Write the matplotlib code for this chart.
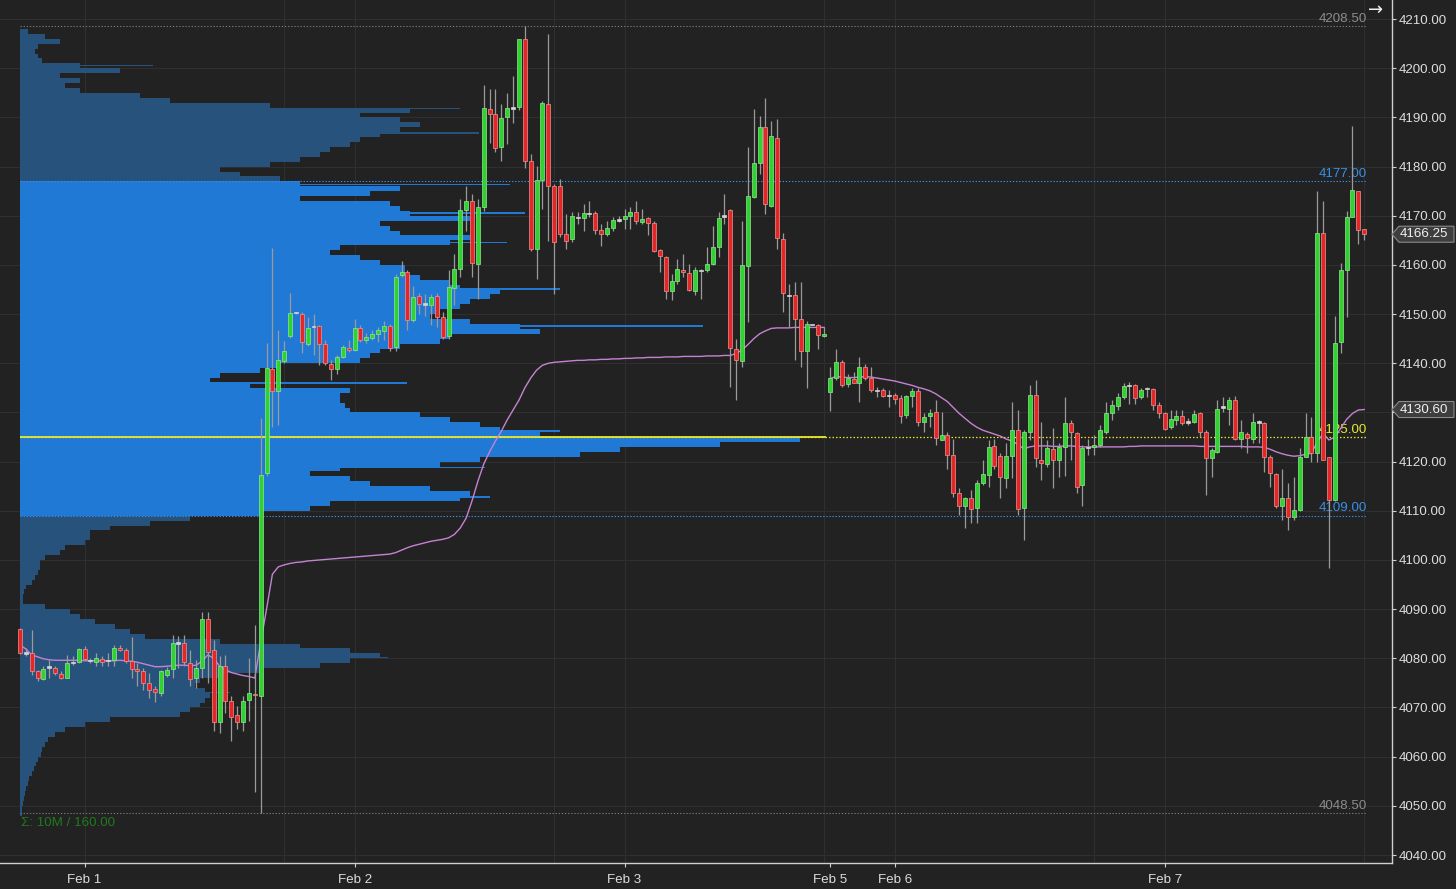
import numpy as np
import matplotlib.pyplot as plt
from matplotlib.patches import Polygon
from matplotlib.transforms import blended_transform_factory

# ---- 30 min ES bars, Jan 31 evening -> Feb 7 (bar index on x) ----
opens = [
    4086.0, 4081.1, 4081.1, 4077.4, 4075.8, 4078.2, 4078.0, 4076.9, 4076.0, 4079.2,
    4079.2, 4081.9, 4079.6, 4079.2, 4079.9, 4079.6, 4079.7, 4082.1, 4081.6, 4079.4,
    4077.8, 4077.4, 4074.9, 4073.8, 4073.0, 4076.6, 4077.8, 4083.1, 4083.1, 4079.0,
    4076.0, 4078.0, 4088.0, 4081.6, 4067.0, 4078.4, 4071.3, 4068.4, 4067.0, 4071.6,
    4072.8, 4072.3, 4117.7, 4138.9, 4134.4, 4140.5, 4145.5, 4150.3, 4150.1, 4144.0,
    4147.5, 4147.5, 4143.9, 4139.9, 4138.9, 4141.3, 4143.2, 4142.8, 4147.2, 4144.8,
    4145.2, 4146.0, 4146.6, 4147.5, 4143.4, 4157.9, 4158.5, 4148.9, 4153.6, 4152.1,
    4151.8, 4153.6, 4149.5, 4145.5, 4155.3, 4159.2, 4171.2, 4173.1, 4160.2, 4171.7,
    4191.7, 4190.8, 4183.9, 4190.0, 4191.9, 4192.1, 4205.9, 4181.2, 4163.3, 4177.3,
    4192.7, 4176.1, 4176.1, 4166.3, 4165.3, 4169.7, 4169.6, 4170.5, 4170.5, 4167.1,
    4166.3, 4167.6, 4169.1, 4169.3, 4170.0, 4170.7, 4168.7, 4169.5, 4168.5, 4163.1,
    4161.7, 4154.7, 4156.7, 4159.0, 4158.3, 4154.8, 4158.9, 4158.9, 4160.2, 4163.6,
    4170.0, 4171.2, 4143.0, 4140.5, 4159.7, 4173.9, 4180.8, 4188.1, 4172.0, 4185.9,
    4165.3, 4153.8, 4153.9, 4149.1, 4142.5, 4147.9, 4147.7, 4145.5, 4134.2, 4137.1,
    4140.3, 4135.7, 4136.8, 4136.0, 4139.3, 4137.1, 4134.5, 4134.5, 4133.5, 4133.5,
    4133.0, 4129.5, 4133.3, 4134.4, 4128.1, 4129.2, 4130.1, 4124.5, 4125.5, 4121.3,
    4113.7, 4111.0, 4112.6, 4110.5, 4115.6, 4117.3, 4123.2, 4121.1, 4116.6, 4121.1,
    4126.4, 4110.5, 4126.1, 4133.5, 4120.3, 4119.6, 4122.5, 4120.3, 4122.9, 4127.9,
    4125.9, 4115.2, 4122.9, 4123.0, 4123.4, 4126.1, 4129.8, 4131.3, 4133.2, 4135.5,
    4135.5, 4133.2, 4134.9, 4134.7, 4131.5, 4129.9, 4127.1, 4128.4, 4129.2, 4128.1,
    4128.1, 4129.8, 4126.1, 4120.7, 4122.0, 4131.1, 4130.8, 4132.6, 4124.7, 4125.7,
    4124.7, 4128.1, 4127.8, 4120.9, 4117.5, 4110.9, 4112.6, 4108.8, 4110.2, 4121.0,
    4125.1, 4121.7, 4166.6, 4121.0, 4112.2, 4144.3, 4158.9, 4169.7, 4175.1, 4167.3,
]
highs = [
    4086.2, 4082.0, 4085.8, 4077.7, 4078.4, 4079.7, 4078.5, 4077.4, 4080.7, 4080.4,
    4082.1, 4082.6, 4080.0, 4081.1, 4080.4, 4081.0, 4082.8, 4082.8, 4082.1, 4084.4,
    4079.0, 4078.0, 4077.0, 4074.3, 4077.7, 4078.2, 4084.8, 4084.5, 4084.8, 4081.7,
    4079.7, 4089.5, 4089.5, 4083.8, 4080.4, 4080.7, 4072.3, 4070.3, 4072.3, 4080.0,
    4086.7, 4128.8, 4144.1, 4163.5, 4146.8, 4144.6, 4154.3, 4150.5, 4150.4, 4149.5,
    4150.1, 4147.7, 4144.8, 4140.6, 4141.6, 4143.8, 4144.8, 4149.1, 4147.7, 4146.1,
    4146.8, 4147.4, 4148.7, 4147.9, 4158.2, 4160.9, 4158.9, 4155.8, 4154.3, 4154.1,
    4154.1, 4154.3, 4150.4, 4158.9, 4162.2, 4173.4, 4176.1, 4174.4, 4173.4, 4196.7,
    4195.7, 4195.7, 4192.7, 4195.0, 4198.4, 4206.0, 4208.5, 4182.6, 4180.2, 4193.3,
    4206.9, 4176.4, 4177.4, 4170.3, 4170.7, 4170.7, 4172.4, 4173.1, 4171.0, 4168.3,
    4169.0, 4169.7, 4170.0, 4171.4, 4171.7, 4173.1, 4171.4, 4169.7, 4169.0, 4163.3,
    4161.9, 4158.2, 4161.2, 4162.3, 4160.2, 4159.5, 4159.2, 4163.6, 4168.0, 4170.7,
    4174.4, 4171.3, 4145.0, 4169.0, 4183.9, 4191.7, 4190.3, 4194.0, 4189.3, 4189.6,
    4166.6, 4156.2, 4156.5, 4156.5, 4148.7, 4148.0, 4148.0, 4147.3, 4139.3, 4143.0,
    4140.6, 4137.9, 4138.2, 4141.3, 4139.9, 4139.3, 4135.2, 4134.9, 4134.5, 4133.9,
    4133.5, 4133.5, 4134.9, 4134.9, 4129.8, 4130.8, 4132.5, 4130.1, 4126.1, 4124.7,
    4114.6, 4112.9, 4114.2, 4116.3, 4120.3, 4124.4, 4124.7, 4121.7, 4123.7, 4132.2,
    4130.5, 4126.4, 4135.5, 4136.6, 4128.1, 4124.4, 4126.8, 4123.7, 4133.2, 4128.4,
    4126.1, 4123.4, 4124.7, 4125.4, 4127.4, 4132.2, 4132.5, 4133.9, 4135.9, 4136.2,
    4135.7, 4134.9, 4135.1, 4134.9, 4132.2, 4130.1, 4130.5, 4130.5, 4130.5, 4128.8,
    4130.5, 4130.1, 4126.4, 4122.7, 4132.5, 4133.2, 4133.2, 4133.3, 4128.4, 4126.1,
    4129.9, 4128.4, 4128.1, 4121.3, 4117.6, 4118.6, 4115.6, 4116.9, 4122.7, 4129.8,
    4129.1, 4175.1, 4173.1, 4121.0, 4149.7, 4160.3, 4171.0, 4188.3, 4175.1, 4167.3,
]
lows = [
    4080.8, 4080.4, 4076.7, 4075.3, 4075.5, 4076.0, 4076.7, 4075.7, 4076.0, 4078.7,
    4079.0, 4079.7, 4079.0, 4078.4, 4078.4, 4078.5, 4078.4, 4081.4, 4079.0, 4076.0,
    4074.3, 4073.6, 4071.9, 4071.1, 4072.3, 4076.3, 4076.0, 4078.0, 4078.4, 4074.4,
    4074.0, 4076.0, 4075.0, 4065.2, 4064.8, 4068.9, 4063.2, 4065.7, 4065.2, 4067.2,
    4052.8, 4048.5, 4117.0, 4127.0, 4127.4, 4140.0, 4145.2, 4150.1, 4142.0, 4143.6,
    4141.6, 4139.6, 4139.6, 4136.7, 4137.8, 4141.0, 4142.3, 4142.6, 4144.3, 4144.1,
    4144.7, 4144.3, 4144.7, 4142.6, 4142.6, 4157.5, 4146.7, 4148.4, 4150.1, 4149.7,
    4147.7, 4147.4, 4145.0, 4145.0, 4151.8, 4157.5, 4167.0, 4157.5, 4153.1, 4171.0,
    4184.9, 4182.9, 4181.2, 4184.6, 4188.9, 4191.6, 4179.8, 4162.9, 4157.2, 4171.4,
    4164.9, 4154.1, 4165.6, 4163.3, 4164.6, 4168.3, 4167.0, 4169.7, 4166.3, 4163.9,
    4165.9, 4167.0, 4168.7, 4167.3, 4167.3, 4168.3, 4168.3, 4166.0, 4162.6, 4158.5,
    4153.1, 4152.8, 4156.2, 4157.5, 4154.8, 4153.8, 4153.1, 4158.5, 4159.9, 4161.6,
    4168.3, 4135.2, 4132.5, 4139.3, 4148.4, 4173.7, 4178.5, 4170.4, 4171.7, 4163.3,
    4150.4, 4147.4, 4140.6, 4139.3, 4134.9, 4147.7, 4143.0, 4145.3, 4130.3, 4136.6,
    4135.2, 4135.2, 4135.9, 4132.2, 4136.6, 4134.2, 4133.2, 4133.2, 4131.2, 4131.8,
    4127.8, 4128.8, 4131.2, 4127.2, 4126.1, 4127.1, 4123.4, 4124.4, 4118.6, 4112.9,
    4109.2, 4106.5, 4107.5, 4107.5, 4115.3, 4114.9, 4118.6, 4112.6, 4114.6, 4116.6,
    4109.2, 4104.1, 4124.4, 4119.0, 4116.3, 4119.0, 4114.6, 4116.9, 4117.0, 4120.3,
    4113.6, 4110.9, 4121.3, 4121.3, 4123.0, 4125.7, 4128.4, 4130.5, 4132.8, 4131.8,
    4131.8, 4132.8, 4133.2, 4130.5, 4128.8, 4126.4, 4126.7, 4127.4, 4127.4, 4127.4,
    4127.8, 4125.1, 4113.2, 4116.9, 4121.8, 4130.1, 4127.4, 4124.4, 4122.7, 4121.7,
    4123.7, 4123.7, 4117.9, 4114.9, 4110.5, 4108.2, 4106.1, 4108.2, 4109.9, 4120.9,
    4120.0, 4120.0, 4120.3, 4098.4, 4111.9, 4142.0, 4149.4, 4169.7, 4164.3, 4165.0,
]
closes = [
    4081.0, 4081.1, 4077.4, 4076.0, 4077.8, 4078.2, 4077.0, 4076.0, 4079.0, 4079.2,
    4081.9, 4079.9, 4079.6, 4080.1, 4079.2, 4079.6, 4082.1, 4081.7, 4079.4, 4077.8,
    4077.4, 4075.0, 4073.6, 4073.1, 4077.4, 4077.7, 4083.2, 4083.1, 4079.2, 4075.8,
    4078.0, 4088.0, 4081.2, 4067.0, 4078.4, 4071.3, 4068.1, 4067.0, 4071.3, 4073.0,
    4072.6, 4117.3, 4139.0, 4134.4, 4140.6, 4142.5, 4150.3, 4150.3, 4144.3, 4147.2,
    4147.5, 4143.9, 4140.1, 4138.9, 4141.3, 4143.3, 4142.8, 4147.2, 4144.7, 4145.3,
    4146.0, 4146.7, 4147.5, 4143.2, 4157.6, 4158.5, 4148.9, 4153.5, 4152.1, 4152.1,
    4153.5, 4149.5, 4145.3, 4155.5, 4159.2, 4171.2, 4173.1, 4160.4, 4171.7, 4191.9,
    4190.6, 4183.7, 4189.8, 4191.9, 4191.9, 4205.9, 4181.2, 4163.3, 4177.3, 4193.0,
    4176.1, 4164.6, 4166.3, 4164.9, 4170.0, 4169.7, 4170.5, 4170.5, 4167.1, 4166.2,
    4167.5, 4169.1, 4169.1, 4170.0, 4170.7, 4169.0, 4169.3, 4168.5, 4162.9, 4161.9,
    4154.8, 4156.8, 4159.2, 4158.5, 4154.9, 4158.9, 4158.9, 4160.1, 4163.7, 4169.5,
    4170.0, 4143.2, 4140.6, 4159.9, 4174.1, 4180.8, 4188.1, 4172.3, 4186.3, 4165.5,
    4154.3, 4153.8, 4149.1, 4142.5, 4148.0, 4147.9, 4145.7, 4146.0, 4137.1, 4140.3,
    4135.5, 4137.1, 4136.0, 4139.3, 4137.1, 4134.5, 4134.5, 4133.3, 4133.5, 4132.8,
    4129.3, 4133.3, 4134.4, 4128.1, 4129.0, 4129.9, 4124.9, 4125.4, 4121.3, 4113.7,
    4111.0, 4112.6, 4110.3, 4115.6, 4117.5, 4122.9, 4119.1, 4116.8, 4121.1, 4126.4,
    4110.3, 4126.1, 4133.5, 4120.7, 4119.8, 4122.7, 4120.3, 4123.0, 4127.8, 4126.1,
    4114.9, 4122.7, 4122.9, 4123.4, 4126.4, 4129.9, 4131.5, 4133.2, 4135.3, 4135.5,
    4133.0, 4134.5, 4134.9, 4131.5, 4129.8, 4126.7, 4128.6, 4129.2, 4127.9, 4128.1,
    4129.7, 4126.1, 4120.7, 4122.4, 4130.8, 4131.1, 4132.6, 4124.7, 4126.1, 4124.9,
    4128.1, 4128.1, 4121.0, 4117.6, 4110.9, 4112.6, 4108.8, 4110.2, 4121.0, 4125.1,
    4121.7, 4166.6, 4120.3, 4112.2, 4144.1, 4158.9, 4169.8, 4175.3, 4167.1, 4166.25,
]

# weekly VWAP (resets with the Sunday open, bar 138)
vwap_week1 = [
    4082.7, 4081.9, 4080.7, 4080.3, 4079.9, 4079.7, 4079.6, 4079.6, 4079.6, 4079.6,
    4079.6, 4079.5, 4079.5, 4079.5, 4079.5, 4079.5, 4079.5, 4079.6, 4079.5, 4079.4,
    4079.2, 4078.9, 4078.6, 4078.3, 4078.3, 4078.4, 4078.5, 4078.6, 4078.6, 4078.5,
    4078.6, 4079.4, 4080.7, 4080.0, 4078.4, 4077.7, 4077.1, 4076.8, 4076.5, 4076.3,
    4076.0, 4083.2, 4090.0, 4097.1, 4098.6, 4099.0, 4099.3, 4099.5, 4099.6, 4099.8,
    4099.9, 4100.0, 4100.1, 4100.2, 4100.3, 4100.4, 4100.5, 4100.6, 4100.7, 4100.8,
    4100.9, 4101.0, 4101.1, 4101.2, 4101.5, 4102.0, 4102.5, 4102.9, 4103.2, 4103.5,
    4103.8, 4104.0, 4104.2, 4104.5, 4105.2, 4106.5, 4108.5, 4112.0, 4116.0, 4119.5,
    4122.0, 4124.2, 4126.2, 4128.5, 4130.5, 4132.5, 4135.0, 4137.0, 4138.6, 4139.6,
    4140.0, 4140.2, 4140.3, 4140.4, 4140.5, 4140.6, 4140.6, 4140.7, 4140.7, 4140.8,
    4140.8, 4140.9, 4140.9, 4141.0, 4141.0, 4141.1, 4141.1, 4141.2, 4141.2, 4141.2,
    4141.3, 4141.3, 4141.3, 4141.4, 4141.4, 4141.4, 4141.4, 4141.5, 4141.5, 4141.5,
    4141.6, 4141.6, 4142.0, 4142.7, 4143.8, 4145.0, 4146.0, 4146.6, 4147.1, 4147.2,
    4147.2, 4147.2, 4147.3, 4147.3, 4147.3, 4147.3, 4147.3, 4147.3,
]
vwap_week2 = [
    4136.9, 4137.3, 4137.2, 4137.1, 4137.1, 4137.2, 4137.3, 4137.2, 4137.0, 4136.8,
    4136.6, 4136.4, 4136.1, 4135.8, 4135.5, 4135.1, 4134.8, 4134.4, 4133.8, 4133.0,
    4132.2, 4131.0, 4129.8, 4128.8, 4127.8, 4127.0, 4126.4, 4126.0, 4125.6, 4125.2,
    4124.6, 4124.2, 4123.5, 4122.6, 4123.0, 4123.2, 4123.2, 4123.2, 4123.1, 4123.1,
    4123.2, 4123.2, 4123.1, 4123.0, 4123.0, 4123.0, 4123.0, 4123.0, 4123.0, 4123.0,
    4123.0, 4123.1, 4123.1, 4123.2, 4123.2, 4123.2, 4123.2, 4123.2, 4123.2, 4123.2,
    4123.2, 4123.2, 4123.2, 4123.1, 4123.1, 4123.1, 4123.1, 4123.1, 4123.1, 4123.1,
    4123.1, 4123.0, 4123.0, 4123.0, 4122.9, 4122.5, 4122.0, 4121.6, 4121.3, 4121.1,
    4121.2, 4121.5, 4121.7, 4124.0, 4125.7, 4124.4, 4125.0, 4126.8, 4128.6, 4129.8,
    4130.5, 4130.6,
]

# volume profile, one row per point (row p covers p..p+1)
profile_low = 4048
profile_volume = [
    2, 2, 3, 4, 5, 6, 8, 9, 12, 14,                     # 4048-4057
    16, 18, 21, 22, 25, 28, 35, 45, 65, 90,             # 4058-4067
    160, 170, 180, 185, 190, 185, 175, 180, 200, 240,   # 4068-4077
    300, 330, 360, 330, 280, 200, 125, 110, 95, 75,     # 4078-4087
    60, 50, 25, 3, 3, 4, 6, 12, 15, 18,                 # 4088-4097
    20, 20, 25, 40, 45, 65, 70, 70, 90, 130,            # 4098-4107
    170, 240, 290, 310, 440, 450, 410, 350, 330, 290,   # 4108-4117
    320, 420, 460, 560, 600, 700, 780, 520, 480, 460,   # 4118-4127
    430, 400, 330, 325, 320, 320, 330, 230, 190, 200,   # 4128-4137
    240, 260, 340, 350, 360, 380, 420, 430, 520, 500,   # 4138-4147
    450, 410, 420, 440, 450, 470, 480, 440, 430, 400,   # 4148-4157
    385, 385, 360, 340, 310, 320, 430, 450, 380, 370,   # 4158-4167
    360, 450, 390, 380, 370, 280, 350, 380, 280, 260,   # 4168-4177
    220, 200, 250, 280, 300, 310, 330, 340, 360, 380,   # 4178-4187
    400, 380, 340, 390, 250, 150, 120, 60, 45, 60,      # 4188-4197
    40, 100, 60, 22, 18, 15, 18, 40, 25, 8,             # 4198-4207
]
# single-tick rows that stick out past the 1-point rows
spike_prices = [4073.0, 4080.2, 4112.8, 4118.8, 4126.2, 4136.0, 4147.6, 4155.1,
                4164.6, 4170.6, 4176.4, 4186.8, 4191.8, 4200.6]
spike_volume = [210, 368, 470, 465, 540, 387, 683, 540, 487, 505, 490, 459, 440, 133]
poc_price = 4125.0
poc_volume = 806
value_area = (4109.0, 4177.0)
session_high, session_low = 4208.5, 4048.5
last_price = 4166.25
last_vwap = 4130.60

price_ticks = list(range(4040, 4211, 10))
date_ticks = [11, 57, 103, 138, 149, 195]
date_labels = ['Feb 1', 'Feb 2', 'Feb 3', 'Feb 5', 'Feb 6', 'Feb 7']
day_lines = [11, 45, 57, 91, 103, 137, 149, 183, 195, 229]

# colours
BG = '#222222'
GRID = '#2f2f2f'
AXC = '#cfcfcf'
UP, UP_EDGE = '#2fd22f', '#93e893'
DN, DN_EDGE = '#e42626', '#f09494'
DOJI = '#d6d6d6'
WICK = '#9a9a9a'
VA_BLUE = '#2079d4'
OUT_BLUE = '#27527c'
LINE_BLUE = '#3a8ee6'
POC_YEL = '#e8e82e'
VWAP_C = '#c682d2'
GRAY_TXT = '#8c8c8c'

plt.rcParams['font.family'] = ['Liberation Sans', 'DejaVu Sans']
fs = 9.6

opens = np.array(opens)
highs = np.array(highs)
lows = np.array(lows)
closes = np.array(closes)
idx = np.arange(len(closes))

fig = plt.figure(figsize=(14.56, 8.89), dpi=100, facecolor=BG)
rect = [0.0, 26 / 889, 1392 / 1456, 863 / 889]

# profile (and the grid) sit in their own axes underneath the candles
ax_prof = fig.add_axes(rect, zorder=0)
ax = fig.add_axes(rect, sharey=ax_prof, zorder=1)
ax.patch.set_visible(False)

x_in_bars = blended_transform_factory(ax.transData, ax.transAxes)
for g in day_lines:
    ax_prof.plot([g, g], [0, 1], transform=x_in_bars, color=GRID, lw=0.8, zorder=0)
for p in price_ticks:
    ax_prof.axhline(p, color=GRID, lw=0.8, zorder=0)

levels = profile_low + np.arange(len(profile_volume))
in_va = (levels >= value_area[0]) & (levels < value_area[1])
ax_prof.barh(levels, profile_volume, height=1.0, align='edge', left=0,
             color=np.where(in_va, VA_BLUE, OUT_BLUE), linewidth=0, zorder=1)
spike_va = (np.array(spike_prices) >= value_area[0]) & (np.array(spike_prices) < value_area[1])
ax_prof.barh(spike_prices, spike_volume, height=0.3, left=0,
             color=np.where(spike_va, VA_BLUE, OUT_BLUE), linewidth=0, zorder=1)
ax_prof.hlines(poc_price, 0, poc_volume, color=POC_YEL, lw=1.3, zorder=3)
ax_prof.set_xlim(-20, 1372)
ax_prof.axis('off')

# reference lines and their labels
x_end = idx[-1] + 0.4
dotted = (0, (1.2, 1.6))
ax.hlines([session_high, session_low], 0, x_end, color='#777777', lw=0.8,
          linestyles=[dotted], zorder=1)
ax.hlines(list(value_area), 0, x_end, color=LINE_BLUE, lw=0.8,
          linestyles=[dotted], zorder=1)
ax.hlines(poc_price, 0, x_end, color=POC_YEL, lw=0.9, linestyles=[dotted], zorder=1)

def level_label(y, color):
    ax.annotate(f'{y:.2f}', (x_end, y), xytext=(0, 1), textcoords='offset points',
                ha='right', va='bottom', color=color, fontsize=fs, zorder=1.5)

level_label(session_high, GRAY_TXT)
level_label(session_low, GRAY_TXT)
level_label(value_area[1], LINE_BLUE)
level_label(value_area[0], LINE_BLUE)
level_label(poc_price, POC_YEL)
ax.annotate('Σ: 10M / 160.00', (0, session_low), xytext=(1, -3),
            textcoords='offset points', ha='left', va='top',
            color='#1f7a1f', fontsize=fs, zorder=1.5)

# vwap
ax.plot(idx[:len(vwap_week1)], vwap_week1, color=VWAP_C, lw=1.0, zorder=2)
ax.plot(idx[len(vwap_week1):], vwap_week2, color=VWAP_C, lw=1.0, zorder=2)

# candles
ax.vlines(idx, lows, highs, color=WICK, lw=0.9, zorder=3)
diff = closes - opens
face = np.where(diff > 0, UP, np.where(diff < 0, DN, DOJI))
edge = np.where(diff > 0, UP_EDGE, np.where(diff < 0, DN_EDGE, DOJI))
body_h = np.maximum(np.abs(diff), 0.3)
body_b = np.minimum(opens, closes) - np.where(np.abs(diff) < 0.3, 0.15, 0)
ax.bar(idx, body_h, bottom=body_b, width=0.68, color=face, edgecolor=edge,
       linewidth=0.5, zorder=4)

# axes, ticks
px = 5.87
ax.set_xlim(-20 / px, 1372 / px)
ax.set_ylim(4040 - 8 / 4.917, 4040 + 855 / 4.917)
ax.yaxis.tick_right()
ax.set_yticks(price_ticks)
# the vwap tag covers the 4130 label
ax.set_yticklabels(['' if abs(p - last_vwap) < 3 else f'{p:.2f}' for p in price_ticks])
ax.set_xticks(date_ticks)
ax.set_xticklabels(date_labels)
ax.tick_params(axis='y', colors=AXC, labelcolor='#dcdcdc', length=3, width=0.8,
               pad=2, labelsize=fs)
ax.tick_params(axis='x', colors=AXC, labelcolor='#dcdcdc', length=3, width=0.8,
               pad=5, labelsize=fs)
for side in ['top', 'left']:
    ax.spines[side].set_visible(False)
for side in ['right', 'bottom']:
    ax.spines[side].set_color(AXC)
    ax.spines[side].set_linewidth(1.0)

# price tags on the right scale
def price_tag(value, text):
    y0, y1 = ax.get_ylim()
    hh = 8.0 * (y1 - y0) / 863.0
    w = 1392.0
    xs = [1 + 0 / w, 1 + 7 / w, 1 + 62 / w, 1 + 62 / w, 1 + 7 / w]
    ys = [value, value + hh, value + hh, value - hh, value - hh]
    tag = Polygon(list(zip(xs, ys)), closed=True, transform=ax.get_yaxis_transform(),
                  facecolor='#3e3e3e', edgecolor='#8a8a8a', lw=0.8, clip_on=False, zorder=6)
    ax.add_patch(tag)
    ax.text(1 + 32 / w, value, text, transform=ax.get_yaxis_transform(), ha='center',
            va='center', color='#f0f0f0', fontsize=fs, clip_on=False, zorder=7)

price_tag(last_price, f'{last_price:.2f}')
price_tag(last_vwap, f'{last_vwap:.2f}')

fig.text(1376 / 1456, 1 - 1 / 889, '→', ha='center', va='top', color='#f2f2f2',
         fontsize=13, family=['DejaVu Sans'])

fig.savefig('out.png', dpi=100, facecolor=BG)
